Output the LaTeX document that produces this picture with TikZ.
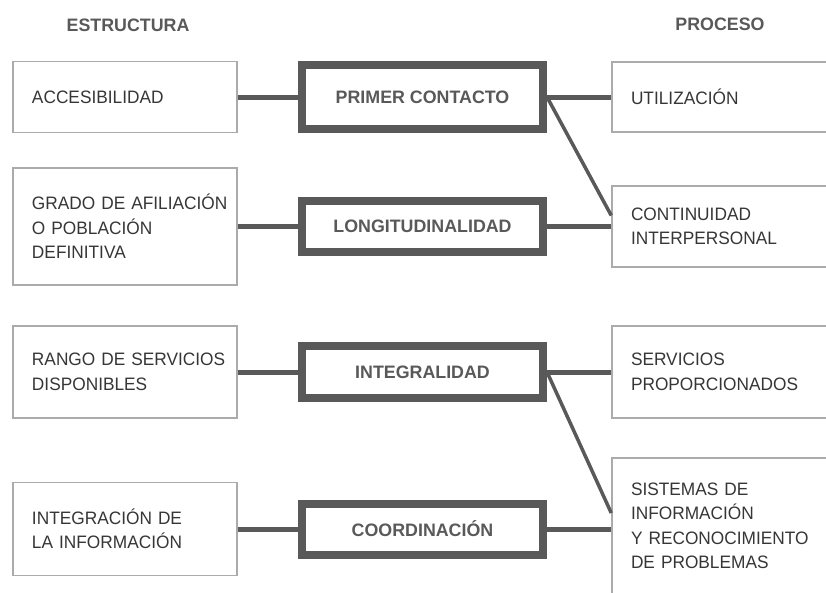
\documentclass[tikz,border=0pt]{standalone}
\usepackage{fontspec}
\setmainfont{Liberation Sans}[FakeStretch=0.96]
\newfontfamily\headfont{Liberation Sans}[FakeStretch=0.99]

\definecolor{ink}{HTML}{363636}
\definecolor{frame}{HTML}{ABABAB}
\definecolor{heavy}{HTML}{595959}

\newcommand\boxindent{\leftskip 13pt\relax}
\tikzstyle{item box}=[draw=frame,line width=1.5pt,text=ink,align=left,text width=212pt,
    inner xsep=6pt,inner ysep=0pt,font=\fontsize{18}{24.5}\selectfont,
    execute at begin node={\boxindent}]
\tikzstyle{process box}=[item box,text width=228pt]
\tikzstyle{key box}=[draw=heavy,line width=8pt,minimum width=241pt,inner sep=0pt,text=heavy,
    font=\headfont\bfseries\fontsize{18}{20}\selectfont]
\tikzstyle{column head}=[text=heavy,font=\headfont\bfseries\fontsize{18}{20}\selectfont]
\tikzstyle{link}=[draw,heavy,line width=5pt]
\tikzstyle{cross link}=[draw,heavy,line width=3.5pt]

\begin{document}
\begin{tikzpicture}[x=1pt,y=-1pt]
    \useasboundingbox (0,0) rectangle (826,592);
    \clip (0,0) rectangle (826,592);
    \fill[white] (0,0) rectangle (826,592);
    % Column titles
    \node[column head] (estructura) at (128,25) {ESTRUCTURA};
    \node[column head] (proceso) at (720,24) {PROCESO};
    % Structure side
    \foreach \pos/\name/\h/\lbl in {{(125,97)/acc/71/ACCESIBILIDAD},
        {(125,226.5)/grado/117/GRADO DE AFILIACIÓN\\O POBLACIÓN\\DEFINITIVA},
        {(125,372)/rango/92/RANGO DE SERVICIOS\\DISPONIBLES},
        {(125,529)/infor/93/INTEGRACIÓN DE\\LA INFORMACIÓN}}
    \node[item box,minimum height=\h pt] (\name) at \pos {\lbl};
    % Key attributes in the middle
    \foreach \pos/\name/\h/\lbl in {{(422.5,97)/prim/64/PRIMER CONTACTO},
        {(422.5,226.5)/longi/51/LONGITUDINALIDAD},
        {(422.5,372)/integ/52/INTEGRALIDAD},
        {(422.5,529)/coord/51/COORDINACIÓN}}
    \node[key box,minimum height=\h pt] (\name) at \pos {\lbl};
    % Process side (runs off the right edge)
    \foreach \pos/\name/\h/\lbl in {{(732,97)/util/70/UTILIZACIÓN},
        {(732,226.5)/conti/81/CONTINUIDAD\\INTERPERSONAL},
        {(732,372)/servi/92/SERVICIOS\\PROPORCIONADOS},
        {(732,526)/siste/136/SISTEMAS DE\\INFORMACIÓN\\Y RECONOCIMIENTO\\DE PROBLEMAS}}
    \node[process box,minimum height=\h pt] (\name) at \pos {\lbl};
    % Straight links
    \foreach \source/\dest in {acc/prim, grado/longi, rango/integ, infor/coord,
        prim/util, longi/conti, integ/servi, coord/siste}
    \path[link] (\source) -- (\source -| \dest.west);
    % Slanted links
    \foreach \source/\dest/\dy in {prim/conti/11, integ/siste/13}
    \path[cross link] (\source.east) -- ([yshift=\dy pt]\dest.west);
\end{tikzpicture}
\end{document}
